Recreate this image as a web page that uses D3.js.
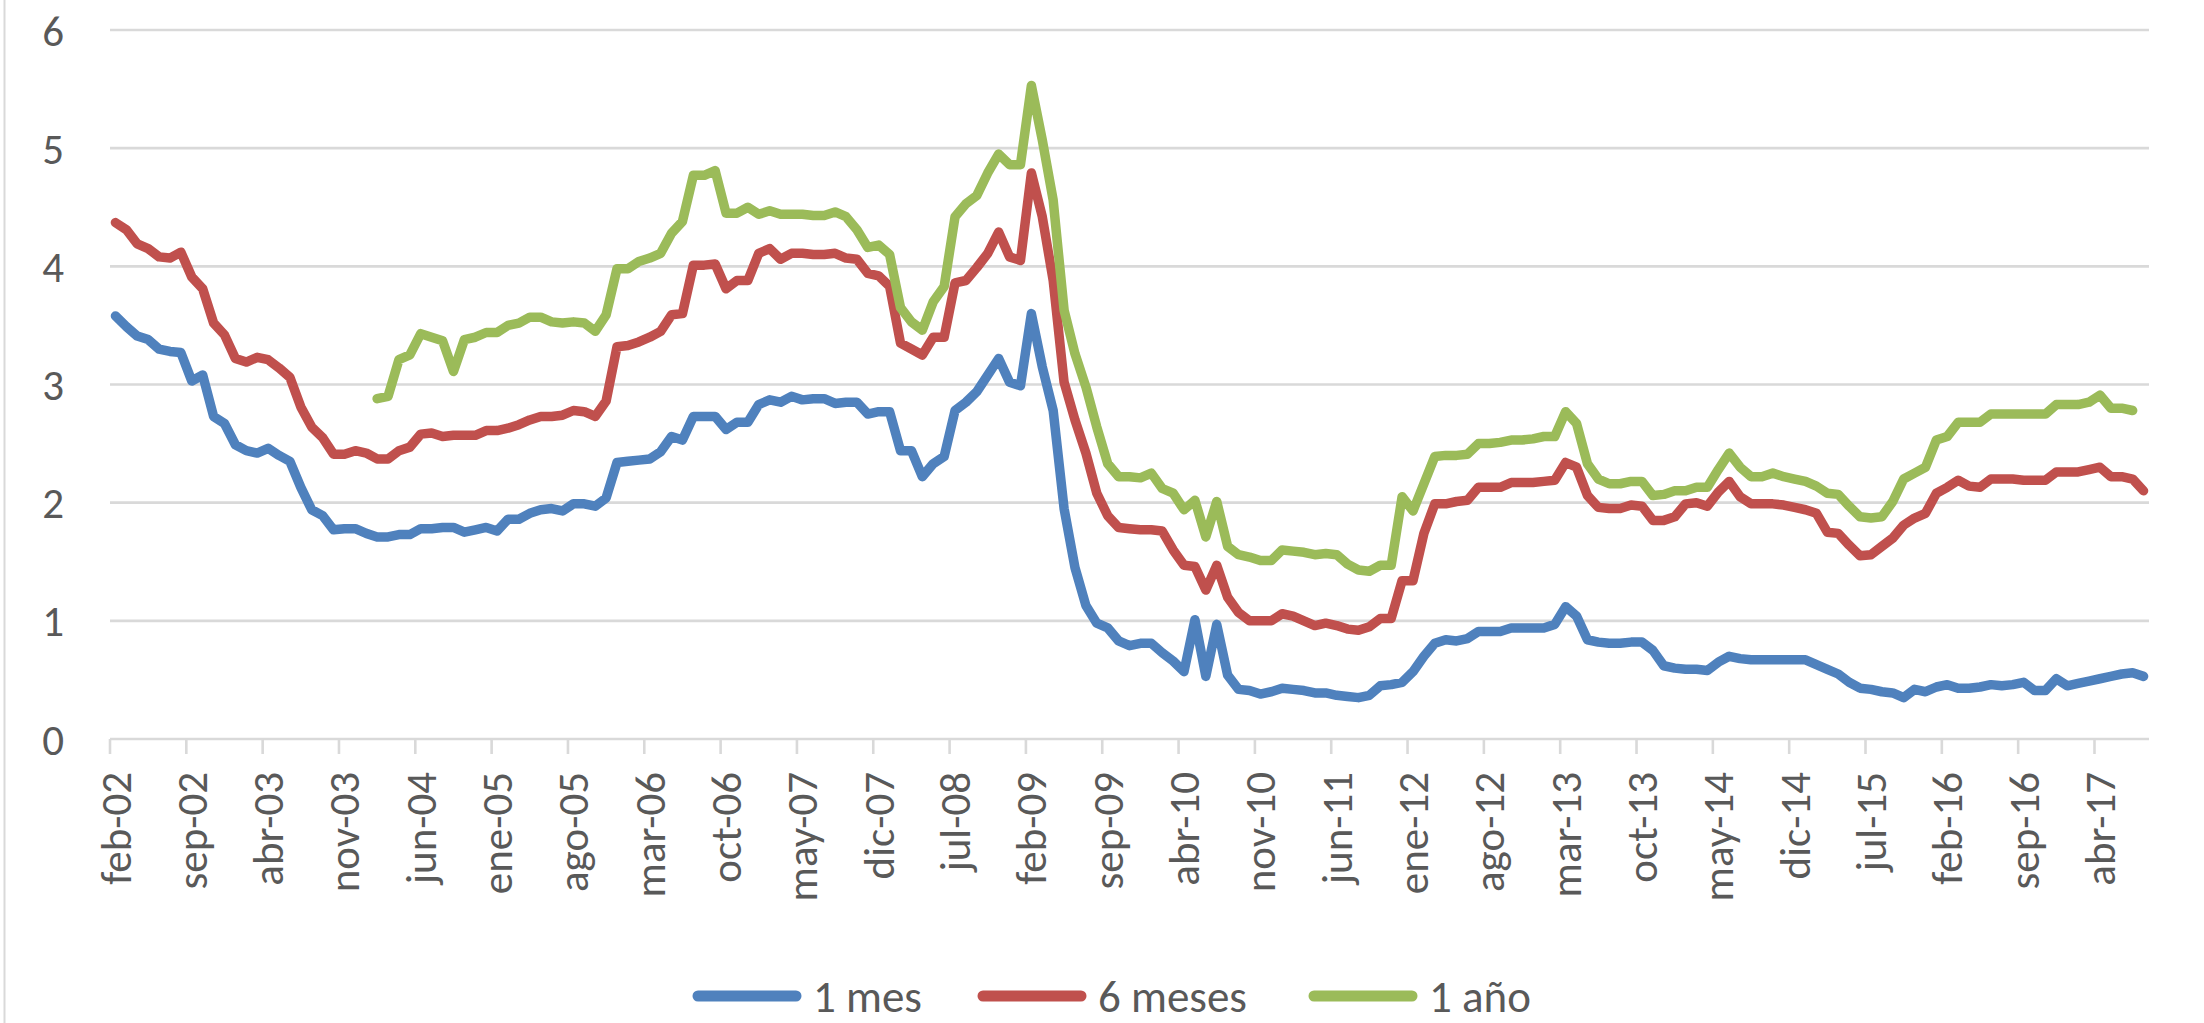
<!DOCTYPE html>
<html>
<head>
<meta charset="utf-8">
<script src="https://cdn.jsdelivr.net/npm/d3@7"></script>
<style>
  html, body { margin: 0; padding: 0; background: #ffffff; }
  svg { display: block; }
  text { font-family: Calibri, Carlito, Lato, sans-serif; fill: #595959; }
</style>
</head>
<body>
<svg id="chart" width="2204" height="1023"></svg>
<script>
// Monthly series, feb-2002 to aug-2017 (187 months)
const monthNames = ["ene","feb","mar","abr","may","jun","jul","ago","sep","oct","nov","dic"];
const startYear = 2002, startMonth = 1, nMonths = 187;
const categories = [];
for (let i = 0; i < nMonths; i++) {
  const m = (startMonth + i) % 12;
  const y = startYear + Math.floor((startMonth + i) / 12);
  categories.push(monthNames[m] + "-" + String(y % 100).padStart(2, "0"));
}

const tickLabels = ["feb-02","sep-02","abr-03","nov-03","jun-04","ene-05","ago-05","mar-06",
  "oct-06","may-07","dic-07","jul-08","feb-09","sep-09","abr-10","nov-10","jun-11","ene-12",
  "ago-12","mar-13","oct-13","may-14","dic-14","jul-15","feb-16","sep-16","abr-17"];

const yTicks = [0, 1, 2, 3, 4, 5, 6];

const seriesNames = ["1 mes", "6 meses", "1 año"];
const seriesColors = ["#4F81BD", "#C0504D", "#9BBB59"];

const mes1 = [3.58,3.49,3.41,3.38,3.30,3.28,3.27,3.03,3.08,2.73,2.67,2.49,2.44,2.42,2.46,2.40,2.35,2.13,1.94,1.89,
  1.77,1.78,1.78,1.74,1.71,1.71,1.73,1.73,1.78,1.78,1.79,1.79,1.75,1.77,1.79,1.76,1.86,1.86,1.91,1.94,
  1.95,1.93,1.99,1.99,1.97,2.04,2.34,2.35,2.36,2.37,2.43,2.56,2.53,2.73,2.73,2.73,2.62,2.68,2.68,2.83,
  2.87,2.85,2.90,2.87,2.88,2.88,2.84,2.85,2.85,2.75,2.77,2.77,2.44,2.44,2.22,2.33,2.39,2.78,2.85,2.94,
  3.08,3.22,3.02,2.99,3.60,3.15,2.78,1.95,1.45,1.13,0.98,0.94,0.83,0.79,0.81,0.81,0.73,0.66,0.57,1.01,
  0.53,0.97,0.54,0.42,0.41,0.38,0.40,0.43,0.42,0.41,0.39,0.39,0.37,0.36,0.35,0.37,0.45,0.46,0.48,0.57,
  0.70,0.81,0.84,0.83,0.85,0.91,0.91,0.91,0.94,0.94,0.94,0.94,0.97,1.12,1.04,0.84,0.82,0.81,0.81,0.82,
  0.82,0.75,0.62,0.60,0.59,0.59,0.58,0.65,0.70,0.68,0.67,0.67,0.67,0.67,0.67,0.67,0.63,0.59,0.55,0.48,
  0.43,0.42,0.40,0.39,0.35,0.42,0.40,0.44,0.46,0.43,0.43,0.44,0.46,0.45,0.46,0.48,0.41,0.41,0.51,0.45,
  0.47,0.49,0.51,0.53,0.55,0.56,0.53];

const meses6 = [4.37,4.31,4.19,4.15,4.08,4.07,4.12,3.91,3.81,3.52,3.42,3.22,3.19,3.23,3.21,3.14,3.06,2.81,2.64,2.55,
  2.41,2.41,2.44,2.42,2.37,2.37,2.44,2.47,2.58,2.59,2.56,2.57,2.57,2.57,2.61,2.61,2.63,2.66,2.70,2.73,
  2.73,2.74,2.78,2.77,2.73,2.86,3.32,3.33,3.36,3.40,3.45,3.59,3.60,4.01,4.01,4.02,3.81,3.88,3.88,4.11,
  4.15,4.06,4.11,4.11,4.10,4.10,4.11,4.07,4.06,3.94,3.92,3.83,3.35,3.30,3.25,3.40,3.40,3.86,3.88,3.99,
  4.11,4.29,4.08,4.05,4.79,4.42,3.88,3.02,2.70,2.42,2.08,1.89,1.79,1.78,1.77,1.77,1.76,1.60,1.47,1.46,
  1.26,1.47,1.20,1.07,1.00,1.00,1.00,1.06,1.04,1.00,0.96,0.98,0.96,0.93,0.92,0.95,1.02,1.02,1.34,1.34,
  1.74,1.99,1.99,2.01,2.02,2.13,2.13,2.13,2.17,2.17,2.17,2.18,2.19,2.34,2.30,2.06,1.96,1.95,1.95,1.98,
  1.97,1.85,1.85,1.88,1.99,2.00,1.97,2.09,2.18,2.05,1.99,1.99,1.99,1.98,1.96,1.94,1.91,1.75,1.74,1.64,
  1.55,1.56,1.63,1.70,1.81,1.87,1.91,2.08,2.13,2.19,2.14,2.13,2.20,2.20,2.20,2.19,2.19,2.19,2.26,2.26,
  2.26,2.28,2.30,2.22,2.22,2.20,2.10];

const anio1 = [null,null,null,null,null,null,null,null,null,null,null,null,null,null,null,null,null,null,null,null,
  null,null,null,null,2.88,2.90,3.21,3.25,3.43,3.40,3.37,3.11,3.38,3.40,3.44,3.44,3.50,3.52,3.57,3.57,
  3.53,3.52,3.53,3.52,3.45,3.59,3.98,3.98,4.04,4.07,4.11,4.28,4.38,4.77,4.77,4.81,4.45,4.45,4.50,4.44,
  4.47,4.44,4.44,4.44,4.43,4.43,4.46,4.42,4.31,4.16,4.18,4.10,3.65,3.53,3.46,3.70,3.83,4.42,4.53,4.60,
  4.79,4.95,4.86,4.86,5.53,5.07,4.56,3.63,3.26,2.98,2.64,2.33,2.22,2.22,2.21,2.25,2.12,2.08,1.94,2.02,
  1.71,2.01,1.63,1.56,1.54,1.51,1.51,1.60,1.59,1.58,1.56,1.57,1.56,1.48,1.43,1.42,1.47,1.47,2.05,1.93,
  2.16,2.39,2.40,2.40,2.41,2.50,2.50,2.51,2.53,2.53,2.54,2.56,2.56,2.77,2.67,2.33,2.20,2.16,2.16,2.18,
  2.18,2.06,2.07,2.10,2.10,2.13,2.13,2.28,2.42,2.30,2.22,2.22,2.25,2.22,2.20,2.18,2.14,2.08,2.07,1.97,
  1.88,1.87,1.88,2.01,2.20,2.25,2.30,2.53,2.56,2.68,2.68,2.68,2.75,2.75,2.75,2.75,2.75,2.75,2.83,2.83,
  2.83,2.85,2.91,2.80,2.80,2.78,null];

const seriesValues = [mes1, meses6, anio1];

// Layout
const plot = { left: 110, right: 2149, top: 30, bottom: 739 };
const fontSize = 43;
const gridColor = "#D9D9D9";

const svg = d3.select("#chart");

// Chart area border (left edge visible)
svg.append("line")
  .attr("x1", 4.5).attr("x2", 4.5).attr("y1", 0).attr("y2", 1023)
  .attr("stroke", gridColor).attr("stroke-width", 2);

const x = d3.scalePoint().domain(categories).range([plot.left, plot.right]).padding(0.5);
const step = x.step();
const y = d3.scaleLinear().domain([0, 6]).range([plot.bottom, plot.top]);

// Horizontal gridlines
svg.append("g").selectAll("line")
  .data(yTicks.filter(d => d > 0))
  .join("line")
  .attr("x1", plot.left).attr("x2", plot.right)
  .attr("y1", d => y(d)).attr("y2", d => y(d))
  .attr("stroke", gridColor).attr("stroke-width", 2.6);

// Y axis labels
const yAxis = d3.axisLeft(y).tickValues(yTicks).tickSize(0).tickPadding(0).tickFormat(d3.format("d"));
const gy = svg.append("g").attr("transform", `translate(${plot.left - 46},0)`).call(yAxis);
gy.select(".domain").remove();
gy.selectAll("text")
  .attr("font-size", fontSize)
  .style("font-family", "Calibri, Carlito, Lato, sans-serif")
  .attr("fill", "#595959")
  .attr("dy", "0.35em");

// Category axis: baseline, tick marks every 7 months on boundaries, labels on categories
const labelIdx = tickLabels.map(t => categories.indexOf(t));
svg.append("line")
  .attr("x1", plot.left).attr("x2", plot.right)
  .attr("y1", plot.bottom).attr("y2", plot.bottom)
  .attr("stroke", gridColor).attr("stroke-width", 2.6);

svg.append("g").selectAll("line")
  .data(labelIdx)
  .join("line")
  .attr("x1", i => x(categories[i]) - step / 2)
  .attr("x2", i => x(categories[i]) - step / 2)
  .attr("y1", plot.bottom).attr("y2", plot.bottom + 15)
  .attr("stroke", gridColor).attr("stroke-width", 2.6);

svg.append("g").selectAll("text")
  .data(tickLabels)
  .join("text")
  .attr("transform", d => `translate(${x(d)},${plot.bottom + 33}) rotate(-90)`)
  .attr("text-anchor", "end")
  .attr("dy", "0.35em")
  .attr("font-size", fontSize)
  .text(d => d);

// Series lines
const line = d3.line()
  .defined(d => d.v !== null)
  .x(d => x(d.c))
  .y(d => y(d.v));

seriesValues.forEach((vals, s) => {
  const pts = vals.map((v, i) => ({ c: categories[i], v: v }));
  svg.append("path")
    .datum(pts)
    .attr("d", line)
    .attr("fill", "none")
    .attr("stroke", seriesColors[s])
    .attr("stroke-width", 9.5)
    .attr("stroke-linejoin", "round")
    .attr("stroke-linecap", "round");
});

// Legend: one entry per series, swatch line followed by its name
const legendY = 996;
const legendStarts = [692, 977, 1308];
const swatch = 110, swatchGap = 11;
const legend = svg.append("g");
seriesNames.forEach((name, s) => {
  const x0 = legendStarts[s];
  legend.append("line")
    .attr("x1", x0 + 6).attr("x2", x0 + swatch - 6)
    .attr("y1", legendY).attr("y2", legendY)
    .attr("stroke", seriesColors[s]).attr("stroke-width", 11)
    .attr("stroke-linecap", "round");
  legend.append("text")
    .attr("x", x0 + swatch + swatchGap)
    .attr("y", legendY)
    .attr("dy", "0.35em")
    .attr("font-size", fontSize + 2)
    .text(name);
});
</script>
</body>
</html>
